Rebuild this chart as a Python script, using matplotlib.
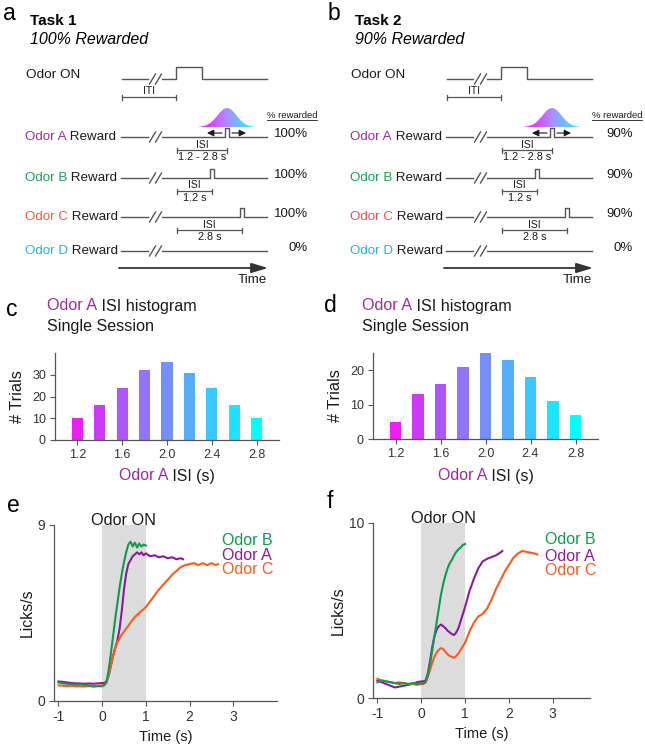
import numpy as np
import matplotlib
matplotlib.use('Agg')
import matplotlib.pyplot as plt
from matplotlib.colors import LinearSegmentedColormap
from matplotlib.patches import Polygon

plt.rcParams['font.family'] = ['Liberation Sans', 'DejaVu Sans']
plt.rcParams['axes.unicode_minus'] = False

# ---------------- data ----------------
odor_names = ['Odor A', 'Odor B', 'Odor C', 'Odor D']
isi_sec = [2.0, 1.2, 2.8, None]
isi_text = ['1.2 - 2.8 s', '1.2 s', '2.8 s', None]
task1_pct = [100, 100, 100, 0]
task2_pct = [90, 90, 90, 0]

hist_isi = [1.2, 1.4, 1.6, 1.8, 2.0, 2.2, 2.4, 2.6, 2.8]
hist_task1 = [10, 16, 24, 32, 36, 31, 24, 16, 10]
hist_task2 = [5, 13, 16, 21, 25, 23, 18, 11, 7]
hist_xticks = [1.2, 1.6, 2.0, 2.4, 2.8]

t_pre = [-1.0, -0.9, -0.8, -0.7, -0.6, -0.5, -0.4, -0.3, -0.2, -0.1, 0.0]
t_rise = [0.05, 0.1, 0.15, 0.2, 0.25, 0.3, 0.35, 0.4, 0.45, 0.5, 0.55, 0.6,
          0.65, 0.7, 0.75, 0.8, 0.85, 0.9, 0.95, 1.0]
t_late_A = [1.1, 1.2, 1.3, 1.4, 1.5, 1.6, 1.7, 1.8, 1.85]
t_late_C = [1.1, 1.2, 1.3, 1.4, 1.5, 1.6, 1.7, 1.8, 1.9, 2.0, 2.1, 2.2, 2.3,
            2.4, 2.5, 2.6, 2.65]

# task 1 lick rates (licks/s)
e_B = [0.95, 0.9, 0.88, 0.86, 0.84, 0.85, 0.82, 0.8, 0.74, 0.76, 0.75,
       0.8, 0.95, 1.6, 2.4, 3.3, 4.2, 5.0, 5.8, 6.5, 7.1, 7.6, 8.0, 8.15,
       7.9, 8.1, 7.85, 8.05, 7.9, 8.0, 7.95]
e_A = [1.0, 0.98, 0.95, 0.92, 0.9, 0.9, 0.88, 0.9, 0.88, 0.9, 0.92,
       0.92, 1.0, 1.3, 1.8, 2.3, 2.7, 3.1, 3.7, 4.6, 5.7, 6.5, 7.0, 7.2,
       7.4, 7.5, 7.6, 7.5, 7.6, 7.45, 7.55,
       7.4, 7.45, 7.35, 7.4, 7.3, 7.35, 7.25, 7.3, 7.25]
e_C = [0.8, 0.78, 0.76, 0.78, 0.75, 0.76, 0.74, 0.76, 0.75, 0.78, 0.8,
       0.82, 0.95, 1.3, 1.8, 2.3, 2.7, 3.0, 3.2, 3.4, 3.55, 3.7, 3.85, 4.0,
       4.15, 4.3, 4.4, 4.5, 4.6, 4.7, 4.8,
       5.1, 5.4, 5.7, 5.95, 6.2, 6.45, 6.65, 6.85, 6.95, 7.0, 7.05, 6.95,
       7.05, 6.95, 7.05, 6.95, 7.0]

# task 2 lick rates (licks/s)
f_B = [0.9, 1.0, 0.95, 0.9, 0.85, 0.8, 0.85, 0.8, 0.85, 0.8, 0.85,
       0.85, 0.9, 1.3, 1.9, 2.7, 3.5, 4.3, 5.1, 5.9, 6.5, 7.0, 7.4, 7.7,
       7.9, 8.15, 8.35, 8.5, 8.6, 8.75, 8.8]
f_A = [1.0, 0.9, 0.8, 0.7, 0.6, 0.65, 0.7, 0.75, 0.8, 0.9, 0.95,
       0.95, 1.0, 1.4, 2.1, 2.9, 3.5, 3.9, 4.1, 4.2, 4.1, 4.0, 3.85, 3.75,
       3.65, 3.6, 3.75, 4.0, 4.4, 4.8, 5.2,
       6.1, 6.8, 7.4, 7.8, 7.95, 8.05, 8.15, 8.3, 8.4]
f_C = [1.1, 1.0, 0.95, 0.9, 0.85, 0.9, 0.85, 0.8, 0.8, 0.75, 0.8,
       0.8, 0.9, 1.2, 1.6, 2.0, 2.35, 2.6, 2.75, 2.85, 2.8, 2.65, 2.5, 2.4,
       2.35, 2.3, 2.4, 2.55, 2.75, 2.95, 3.15,
       3.8, 4.3, 4.65, 4.8, 5.1, 5.6, 6.2, 6.7, 7.2, 7.6, 8.0, 8.25, 8.4,
       8.35, 8.3, 8.25, 8.2]

# ---------------- style ----------------
INK = '#1a1a1a'
GRAY = '#555555'
COL_A_TXT = '#a0289f'
odor_txt_cols = ['#a0289f', '#1a9f55', '#f05a3a', '#1eb4e6']
odor_txt_cols_b = ['#a0289f', '#1a9f55', '#f04b4b', '#1eb4e6']
COL_A, COL_B, COL_C = '#8a1c9c', '#0f9b4f', '#fb5b1c'

W, H = 645, 750
fig = plt.figure(figsize=(W / 100, H / 100), dpi=100)
ov = fig.add_axes([0, 0, 1, 1])
ov.set_xlim(0, W)
ov.set_ylim(H, 0)
ov.set_autoscale_on(False)
ov.axis('off')


def px_axes(left, top, right, bottom):
    return fig.add_axes([left / W, 1 - bottom / H, (right - left) / W, (bottom - top) / H],
                        facecolor='none')


def two_tone(x, y, parts, size):
    t = ov.text(x, y, parts[0][0], color=parts[0][1], fontsize=size, va='center', ha='left')
    for s, c in parts[1:]:
        t = ov.annotate(s, xy=(1, 0), xycoords=t, va='bottom', ha='left', color=c, fontsize=size)
    return t


def slash(dx, y):
    for c in (152.5, 158.5):
        ov.plot([dx + c - 3, dx + c + 3], [y + 5, y - 5], color=GRAY, lw=1.0)


def bracket(x1, x2, y):
    ov.plot([x1, x2], [y, y], color=GRAY, lw=0.9)
    for x in (x1, x2):
        ov.plot([x, x], [y - 2.5, y + 2.5], color=GRAY, lw=0.9)


grad_cmap = LinearSegmentedColormap.from_list('g', ['#ff10ff', '#b08cff', '#10ffff'])


def task_panel(dx, letter, title, subtitle, pcts, txt_cols):
    ov.text(dx + 3, 13, letter, fontsize=16.5, va='center', ha='left', color='k')
    ov.text(dx + 30, 21, title, fontsize=11, fontweight='bold', va='center', color='k')
    ov.text(dx + 30, 40, subtitle, fontsize=11.5, style='italic', va='center', color='k')
    x0, x_on, x_off, x_end = dx + 122, dx + 176, dx + 201.5, dx + 267

    def isi_x(s):
        return x_on + 13.5 + 18.75 * s

    y = 79
    ov.text(dx + 26, y - 4, 'Odor ON', fontsize=9.7, va='center', color=INK)
    ov.plot([x0, dx + 148], [y, y], color=GRAY, lw=1.0)
    slash(dx, y)
    ov.plot([dx + 162, x_on, x_on, x_off, x_off, x_end], [y, y, y - 12, y - 12, y, y],
            color=GRAY, lw=1.0)
    bracket(x0, x_on, 97)
    ov.text((x0 + x_on) / 2, 96, 'ITI', fontsize=7.5, ha='center', va='bottom', color=INK)

    ov.text(dx + 292, 115, '% rewarded', fontsize=6.8, ha='center', va='center', color=INK)
    ov.plot([dx + 267, dx + 317], [120, 120], color=INK, lw=0.6)

    for i, y in enumerate([137, 178, 217, 251]):
        two_tone(dx + 25, y, [(odor_names[i], txt_cols[i]), (' Reward', INK)], 9.6)
        ov.plot([x0 - 1, dx + 148], [y, y], color=GRAY, lw=1.0)
        slash(dx, y)
        s = isi_sec[i]
        if s is None:
            ov.plot([dx + 162, x_end], [y, y], color=GRAY, lw=1.0)
        else:
            xp = isi_x(s)
            ov.plot([dx + 162, xp - 1.7, xp - 1.7, xp + 1.7, xp + 1.7, x_end],
                    [y, y, y - 9, y - 9, y, y], color=GRAY, lw=1.0)
            bracket(x_on + 1, xp, y + 13)
            mid = (x_on + 1 + xp) / 2
            ov.text(mid, y + 12.5, 'ISI', fontsize=7.5, ha='center', va='bottom', color=INK)
            ov.text(mid, y + 20, isi_text[i], fontsize=7.8, ha='center', va='center', color=INK)
        if i == 0:
            xs = np.linspace(xp - 28, xp + 28, 80)
            top = (y - 10) - 19 * np.exp(-0.5 * ((xs - xp) / 9.5) ** 2)
            verts = list(zip(xs, top)) + [(xp + 28, y - 10), (xp - 28, y - 10)]
            poly = Polygon(verts, closed=True, facecolor='none', edgecolor='none')
            ov.add_patch(poly)
            im = ov.imshow(np.linspace(0, 1, 100)[None, :], cmap=grad_cmap, aspect='auto',
                           extent=[xp - 28, xp + 28, y - 10, y - 30], zorder=1)
            im.set_clip_path(poly)
            arrow = dict(arrowstyle='-|>,head_length=0.5,head_width=0.25', color=INK, lw=0.8,
                         mutation_scale=8, shrinkA=0, shrinkB=0)
            ov.annotate('', xy=(xp - 20, y - 4), xytext=(xp - 5, y - 4), arrowprops=arrow)
            ov.annotate('', xy=(xp + 19, y - 4), xytext=(xp + 5, y - 4), arrowprops=arrow)
        ov.text(dx + 308, y - 3, f'{pcts[i]}%', fontsize=9.5, ha='right', va='center', color=INK)

    ov.annotate('', xy=(dx + 268, 268), xytext=(dx + 119, 268),
                arrowprops=dict(arrowstyle='-|>,head_length=1.0,head_width=0.3', color='#333333',
                                lw=1.3, mutation_scale=10, shrinkA=0, shrinkB=0))
    ov.text(dx + 267, 280, 'Time', fontsize=9.6, ha='right', va='center', color=INK)


task_panel(0, 'a', 'Task 1', '100% Rewarded', task1_pct, odor_txt_cols)
task_panel(325, 'b', 'Task 2', '90% Rewarded', task2_pct, odor_txt_cols_b)


def style_ax(ax, fs):
    for side in ('top', 'right'):
        ax.spines[side].set_visible(False)
    for side in ('left', 'bottom'):
        ax.spines[side].set_color(GRAY)
        ax.spines[side].set_linewidth(0.9)
    ax.tick_params(length=3.5, width=0.8, color=GRAY, labelsize=fs, labelcolor='#333333', pad=3)


# ---------------- histograms ----------------
isi_cmap = LinearSegmentedColormap.from_list('isi', ['#ea1ef5', '#00ffff'])


def hist_panel(rect, counts, ymax, yticks, letter, lx, ly, tx):
    ax = px_axes(*rect)
    ax.bar(hist_isi, counts, width=0.1, color=isi_cmap(np.linspace(0, 1, len(hist_isi))))
    ax.set_xlim(1.0, 3.0)
    ax.set_ylim(0, ymax)
    ax.set_xticks(hist_xticks)
    ax.set_xticklabels([f'{v:.1f}' for v in hist_xticks])
    ax.set_yticks(yticks)
    style_ax(ax, 9)
    ax.set_ylabel('# Trials', fontsize=11.7, color=INK, labelpad=5)
    ov.text(lx, ly, letter, fontsize=16.5, va='center', ha='left', color='k')
    two_tone(tx, 306, [('Odor A', COL_A_TXT), (' ISI histogram', INK)], 11.6)
    ov.text(tx, 326, 'Single Session', fontsize=11.6, va='center', color=INK)
    cx = (rect[0] + rect[2]) / 2
    two_tone(cx - 48, 476, [('Odor A', COL_A_TXT), (' ISI (s)', INK)], 11.4)
    return ax


hist_panel((55, 353, 279, 440), hist_task1, 40, [0, 10, 20, 30], 'c', 6, 309, 47)
hist_panel((373, 353, 598, 439), hist_task2, 25, [0, 10, 20], 'd', 324, 306, 362)


# ---------------- lick traces ----------------
def lick_panel(rect, xmax, ymax, curves, letter, lx, ly, leg_x, leg_y):
    ax = px_axes(*rect)
    ax.axvspan(0, 1, color='#dcdcdc', lw=0, zorder=0)
    for t, v, c in curves:
        ax.plot(t, v, color=c, lw=1.5, zorder=2)
    ax.set_xlim(-1.1, xmax)
    ax.set_ylim(0, ymax)
    ax.set_xticks([-1, 0, 1, 2, 3])
    ax.set_yticks([0, ymax])
    style_ax(ax, 10)
    ax.set_ylabel('Licks/s', fontsize=11.4, color=INK, labelpad=2)
    ax.set_xlabel('Time (s)', fontsize=10.5, color=INK, labelpad=4)
    ax.text(0.5, ymax, 'Odor ON', fontsize=11.7, ha='center', va='baseline', color=INK)
    for (name, c), yy in zip([('Odor B', COL_B), ('Odor A', COL_A), ('Odor C', COL_C)], leg_y):
        ax.text(leg_x, yy, name, fontsize=11.5, color=c, ha='left', va='center', clip_on=False)
    ov.text(lx, ly, letter, fontsize=16.5, va='center', ha='left', color='k')
    return ax


tA = t_pre + t_rise + t_late_A
tB = t_pre + t_rise
tC = t_pre + t_rise + t_late_C

lick_panel((54, 525, 277, 701), 4.0, 9,
           [(tA, e_A, COL_A), (tC, e_C, COL_C), (tB, e_B, COL_B)],
           'e', 7, 506, 2.75, [8.23, 7.46, 6.7])
lick_panel((373, 523, 590, 698), 3.85, 10,
           [(tA, f_A, COL_A), (tC, f_C, COL_C), (tB, f_B, COL_B)],
           'f', 327, 501, 2.82, [9.03, 8.11, 7.26])

fig.savefig('out.png', dpi=100)
